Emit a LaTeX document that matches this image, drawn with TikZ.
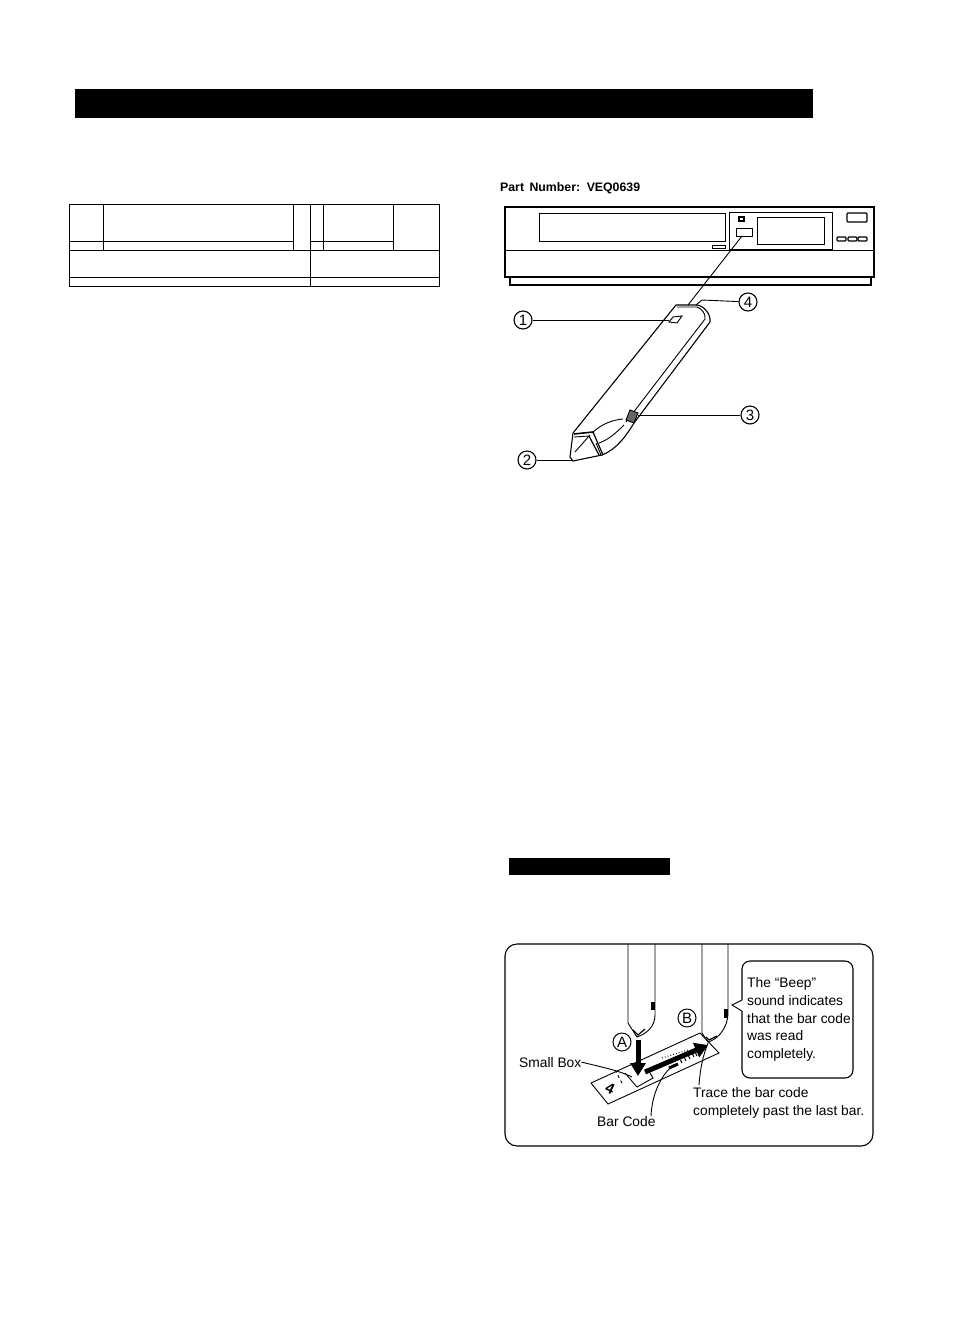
\documentclass[tikz,border=0pt]{standalone}
\usepackage{fontspec}
\setmainfont{Liberation Sans}
\usetikzlibrary{arrows.meta,positioning}
\tikzset{
  frameline/.style={draw=black, line width=1.1pt},
  fineline/.style={draw=black, line width=0.9pt},
  ruleline/.style={draw=black, line width=0.9pt},
  numbermark/.style={circle, draw=black, line width=1.1pt, inner sep=0pt, minimum size=18pt, font=\fontsize{15}{15}\selectfont},
  letter/.style={circle, draw=black, line width=1pt, inner sep=0pt, minimum size=18pt, font=\fontsize{15}{15}\selectfont},
  caption/.style={inner sep=0pt, anchor=base west, font=\fontsize{13.8}{13.8}\selectfont},
  bigarrow/.style={draw=black, line width=5pt, -{Triangle[length=13pt,width=15pt]}},
}
\begin{document}
\begin{tikzpicture}[x=1pt, y=-1pt]
  \useasboundingbox (0,0) rectangle (953,1334);
  % black bars
  \fill[black] (75,89) rectangle (813,118);
  \fill[black] (509,858) rectangle (670,875);
  % empty table
  \draw[ruleline] (69,204) rectangle (439,286);
  \draw[ruleline] (69,241) -- (293,241) (310,241) -- (393,241);
  \draw[ruleline] (69,250) -- (439,250) (69,277) -- (439,277);
  \draw[ruleline] (103,204) -- (103,250) (293,204) -- (293,250)
    (323,204) -- (323,250) (393,204) -- (393,250) (310,204) -- (310,286);
  % recorder
  \node[anchor=base west, inner sep=0pt, font=\fontsize{12.3}{12.3}\selectfont\bfseries] (partno) at (500,191) {Part\, Number:\, VEQ0639};
  \draw[frameline] (505,207) rectangle (874,277);
  \draw[fineline] (505,250) -- (874,250);
  \draw[frameline] (510,277) -- (510,285) -- (871,285) -- (871,277);
  \draw[fineline] (539,213) rectangle (725,241);
  \draw[fineline] (712,245) rectangle (725,248);
  \draw[fineline] (729,212) rectangle (832,249);
  \draw[fineline] (757,217) rectangle (824,244);
  \draw[frameline] (739,217) rectangle (744,221);
  \draw[fineline] (736,228) rectangle (752,236);
  \draw[frameline, rounded corners=1pt] (847,213) rectangle (867,222);
  \foreach \bx in {837,848,858}
    \draw[frameline, rounded corners=1pt] (\bx,237) rectangle ++(9,4);
  % pen
  \coordinate (cordtop) at (742,236);
  \coordinate (cordend) at (688,305);
  \draw[fineline] (cordtop) -- (cordend);
  \draw[frameline] (676,305) -- (697,305) .. controls (704,306) and (711,314) .. (710,322)
    -- (634,423) .. controls (626,436) and (617,449) .. (602,455)
    -- (573,461) -- (570,457) -- (573,433) -- cycle;
  \draw[fineline] (677,307) -- (697,307) .. controls (702,309) and (706,314) .. (705,319) -- (626,422);
  \draw[line width=1.6pt] (574,434) -- (593,432);
  \draw[fineline] (574,437) -- (589,436);
  \draw[line width=1.2pt] (589,436) -- (599,455) (593,432) -- (603,455);
  \draw[fineline] (596,443) -- (601,455);
  \draw[fineline] (593,432) .. controls (602,424) and (612,420) .. (623,419);
  \draw[fineline] (599,443) .. controls (608,440) and (616,433) .. (624,425);
  \draw[fineline] (575,452) -- (590,435);
  \draw[fineline] (669,322) -- (673,317) -- (682,316) -- (677,323) -- cycle;
  \draw[fineline, fill=black!60] (626,420) -- (630,410) -- (638,413) -- (634,423) -- cycle;
  % pen labels
  \node[numbermark] (one) at (523,320) {1};
  \node[numbermark] (two) at (527,460) {2};
  \node[numbermark] (three) at (750,415) {3};
  \node[numbermark] (four) at (748,302) {4};
  \coordinate (onemark) at (669,320);
  \coordinate (twotip) at (572,460);
  \coordinate (threeclip) at (638,415);
  \coordinate (fourtop) at (696,305);
  \draw[fineline] (one) -- (onemark);
  \draw[fineline] (two) -- (twotip);
  \draw[fineline] (three) -- (threeclip);
  \draw[fineline] (four) -- (702,300) -- (fourtop);
  % tracing panel
  \draw[frameline, rounded corners=12pt] (505,944) rectangle (873,1146);
  \draw[frameline, rounded corners=8pt] (742,1000) -- (742,961) -- (853,961) -- (853,1078) -- (742,1078) -- (742,1011);
  \draw[fineline] (742,1000) -- (732,1005) -- (742,1011);
  \node[caption] (calla) at (747,987) {The ``Beep''};
  \node[caption] (callb) at (747,1005) {sound indicates};
  \node[caption] (callc) at (747,1023) {that the bar code};
  \node[caption] (calld) at (747,1040) {was read};
  \node[caption] (calle) at (747,1058) {completely.};
  % two pens
  \draw[fineline] (628,944) -- (628,1023) -- (637,1037) .. controls (646,1034) and (655,1027) .. (655,1015) -- (655,944);
  \draw[line width=1.2pt] (633,1030) -- (638,1035) -- (645,1029);
  \fill[black] (651,1002) rectangle (655,1010);
  \draw[fineline] (702,944) -- (702,1033) -- (708,1042) .. controls (716,1040) and (728,1030) .. (728,1012) -- (728,944);
  \draw[line width=1.2pt] (706,1037) -- (709,1040) -- (717,1036);
  \fill[black] (724,1009) rectangle (728,1018);
  % card
  \draw[fineline] (591,1083) -- (608,1104) -- (719,1053) -- (700,1033) -- cycle;
  \draw[fineline] (625,1073) -- (637,1087) -- (653,1078) -- (650,1073);
  \draw[fineline, dashed] (615,1070) -- (623,1085);
  \node[rotate=-25, font=\fontsize{15}{15}\selectfont\bfseries, inner sep=0pt] (cardno) at (610,1089) {4};
  \draw[fineline, dotted] (662,1058) -- (688,1050);
  \draw[black, line width=3pt] (669,1068) -- (678,1064);
  \foreach \bx/\by in {682/1063, 686/1061, 690/1059, 694/1057, 697/1056}
    \draw[black, line width=1pt] (\bx,\by) -- ++(-1.5,-3);
  % arrows
  \draw[bigarrow] (638,1040) -- (638,1076);
  \draw[bigarrow] (645,1072) -- (708,1045);
  % labels of the panel
  \node[letter] (posa) at (622,1042) {A};
  \node[letter] (posb) at (687,1018) {B};
  \node[caption] (smallbox) at (519,1067) {Small Box};
  \node[caption] (barcode) at (597,1126) {Bar Code};
  \node[caption] (tracea) at (693,1097) {Trace the bar code};
  \node[caption] (traceb) at (693,1115) {completely past the last bar.};
  \coordinate (boxedge) at (632,1077);
  \coordinate (baredge) at (670,1068);
  \coordinate (tipedge) at (708,1043);
  \draw[fineline] (smallbox.east) .. controls (597,1066) and (618,1070) .. (boxedge);
  \draw[fineline] (651,1116) .. controls (652,1095) and (660,1078) .. (baredge);
  \draw[fineline] (699,1085) .. controls (700,1070) and (703,1055) .. (tipedge);
\end{tikzpicture}
\end{document}
